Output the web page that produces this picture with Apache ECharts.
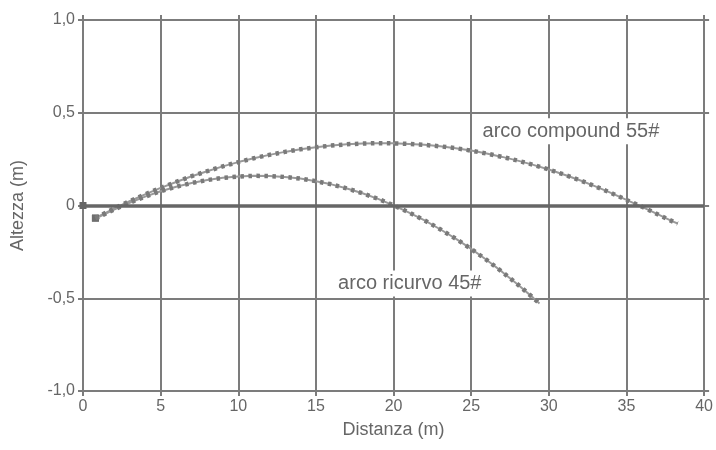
<!DOCTYPE html>
<html>
<head>
<meta charset="utf-8">
<script src="https://cdn.jsdelivr.net/npm/echarts@6/dist/echarts.min.js"></script>
<style>
html,body{margin:0;padding:0;background:#fff;}
#chart{width:716px;height:450px;}
</style>
</head>
<body>
<div id="chart"></div>
<script>
// ---- data ----
const xTicks = [0, 5, 10, 15, 20, 25, 30, 35, 40];
const yTickValues = [-1, -0.5, 0, 0.5, 1];
const yTickLabels = ['-1,0', '-0,5', '0', '0,5', '1,0'];

const compoundName = 'arco compound 55#';
const compoundX = [0.8, 1, 2, 3, 4, 5, 6, 7, 8, 9, 10, 11, 12, 13, 14, 15, 16, 17, 18, 19, 20,
  21, 22, 23, 24, 25, 26, 27, 28, 29, 30, 31, 32, 33, 34, 35, 36, 37, 38, 38.3];
const compoundY = [-0.068, -0.059, -0.017, 0.023, 0.060, 0.095, 0.127, 0.158, 0.185, 0.211, 0.234,
  0.255, 0.273, 0.289, 0.303, 0.314, 0.323, 0.330, 0.334, 0.336, 0.335,
  0.332, 0.327, 0.319, 0.309, 0.296, 0.280, 0.262, 0.242, 0.219, 0.194,
  0.166, 0.136, 0.103, 0.068, 0.030, -0.007, -0.047, -0.087, -0.097];

const recurveName = 'arco ricurvo 45#';
const recurveX = [0.8, 1, 2, 3, 4, 5, 6, 7, 8, 9, 10, 11, 12, 13, 14, 15, 16, 17, 18, 19, 20,
  21, 22, 23, 24, 25, 26, 27, 28, 29, 29.4];
const recurveY = [-0.068, -0.063, -0.022, 0.015, 0.048, 0.077, 0.101, 0.121, 0.137, 0.149, 0.156,
  0.160, 0.159, 0.154, 0.145, 0.131, 0.114, 0.092, 0.066, 0.036, 0.001,
  -0.038, -0.080, -0.128, -0.179, -0.234, -0.294, -0.358, -0.426, -0.498, -0.528];

// ---- presentation ----
const FONT = '"Liberation Sans", Arial, sans-serif';
const TEXT = '#666';
const GRID = '#7c7c7c';

function pairs(xs, ys) { return xs.map((x, i) => [x, ys[i]]); }
const compoundData = pairs(compoundX, compoundY);
const recurveData = pairs(recurveX, recurveY);

const chart = echarts.init(document.getElementById('chart'), null, {renderer: 'canvas'});

function baseAxisX(pos, labels) {
  return {
    type: 'value', position: pos, min: xTicks[0], max: xTicks[xTicks.length - 1], interval: 5,
    axisLine: {show: true, onZero: false, lineStyle: {color: GRID, width: 2}},
    axisTick: {show: true, length: 5, inside: false, lineStyle: {color: GRID, width: 2}},
    axisLabel: {show: labels, color: TEXT, fontFamily: FONT, fontSize: 16, margin: 8},
    splitLine: {show: labels, lineStyle: {color: GRID, width: 2}}
  };
}
function baseAxisY(pos, labels) {
  return {
    type: 'value', position: pos, min: yTickValues[0], max: yTickValues[yTickValues.length - 1], interval: 0.5,
    axisLine: {show: true, onZero: false, lineStyle: {color: GRID, width: 2}},
    axisTick: {show: true, length: 5, inside: false, lineStyle: {color: GRID, width: 2}},
    axisLabel: {
      show: labels, color: TEXT, fontFamily: FONT, fontSize: 16, margin: 8,
      formatter: function (v) {
        const i = yTickValues.findIndex(t => Math.abs(t - v) < 1e-9);
        return i >= 0 ? yTickLabels[i] : '';
      }
    },
    splitLine: {show: labels, lineStyle: {color: GRID, width: 2}}
  };
}

const xMain = Object.assign(baseAxisX('bottom', true), {
  name: 'Distanza (m)', nameLocation: 'middle', nameGap: 30,
  nameTextStyle: {color: TEXT, fontFamily: FONT, fontSize: 18}
});
const yMain = Object.assign(baseAxisY('left', true), {
  name: 'Altezza (m)', nameLocation: 'middle', nameGap: 56, nameRotate: 90,
  nameTextStyle: {color: TEXT, fontFamily: FONT, fontSize: 18}
});

function curveSeries(name, data) {
  return [
    {
      name: name, type: 'line', data: data, xAxisIndex: 0, yAxisIndex: 0,
      showSymbol: true, symbol: 'rect',
      symbolSize: function (v, p) { return p.dataIndex === 0 ? 7 : 0; },
      itemStyle: {color: '#6e6e6e'},
      lineStyle: {color: '#999999', width: 2},
      silent: true, z: 3
    },
    {
      name: name + ' punti', type: 'line', data: data, xAxisIndex: 0, yAxisIndex: 0,
      showSymbol: false,
      lineStyle: {color: '#7a7a7a', width: 4.5, type: [3.5, 4.5], cap: 'butt'},
      silent: true, z: 4
    }
  ];
}

const series = [].concat(curveSeries(compoundName, compoundData), curveSeries(recurveName, recurveData));
series[0].markLine = {
  silent: true, symbol: ['rect', 'none'], symbolSize: 7, animation: false,
  label: {show: false},
  lineStyle: {color: '#666', width: 3.5, type: 'solid'},
  data: [[{coord: [xTicks[0], 0]}, {coord: [xTicks[xTicks.length - 1], 0]}]]
};

chart.setOption({
  animation: false,
  backgroundColor: '#fff',
  grid: {left: 83, right: 8, top: 20, bottom: 59, containLabel: false},
  xAxis: [xMain, baseAxisX('top', false)],
  yAxis: [yMain, baseAxisY('right', false)],
  series: series
});

// curve labels placed in data coordinates
const labels = [
  {text: compoundName, at: [25.6, 0.40]},
  {text: recurveName, at: [16.3, -0.42]}
];
chart.setOption({
  graphic: labels.map(function (l) {
    const p = chart.convertToPixel({xAxisIndex: 0, yAxisIndex: 0}, l.at);
    return {
      type: 'text', x: p[0], y: p[1], z: 10, silent: true,
      style: {
        text: l.text, fill: TEXT, font: '20px ' + FONT,
        align: 'left', verticalAlign: 'middle',
        backgroundColor: '#fff', padding: [3, 2, 3, 2]
      }
    };
  })
});
</script>
</body>
</html>
